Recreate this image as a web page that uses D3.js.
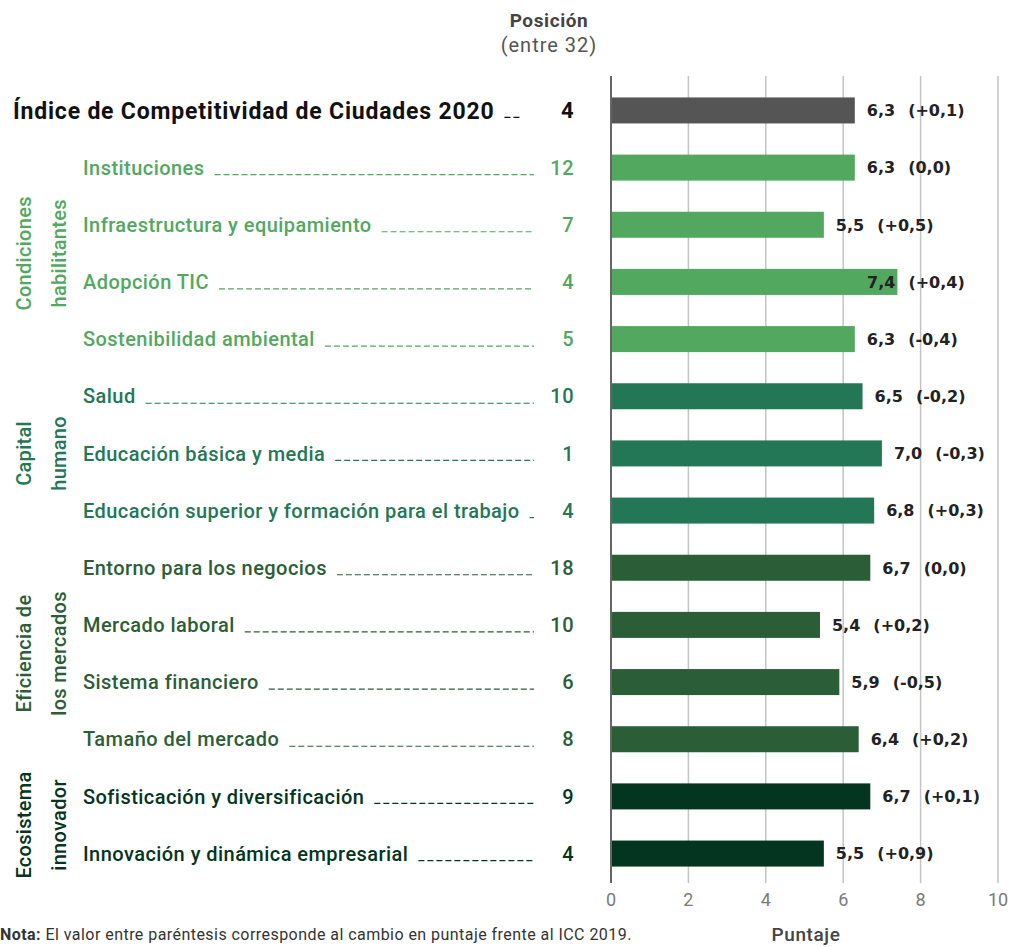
<!DOCTYPE html>
<html lang="es">
<head>
<meta charset="utf-8">
<title>Índice de Competitividad de Ciudades 2020</title>
<script src="https://d3js.org/d3.v7.min.js"></script>
<style>
  body { margin: 0; background: #fff; }
  text { font-family: Roboto, "Noto Sans", sans-serif; }
  .val { font-family: "DejaVu Sans", Verdana, sans-serif; }
</style>
</head>
<body>
<div id="chart"></div>
<script>

// data
var labels = [
  "Índice de Competitividad de Ciudades 2020",
  "Instituciones",
  "Infraestructura y equipamiento",
  "Adopción TIC",
  "Sostenibilidad ambiental",
  "Salud",
  "Educación básica y media",
  "Educación superior y formación para el trabajo",
  "Entorno para los negocios",
  "Mercado laboral",
  "Sistema financiero",
  "Tamaño del mercado",
  "Sofisticación y diversificación",
  "Innovación y dinámica empresarial"
];
var groupOf = [0, 1, 1, 1, 1, 2, 2, 2, 3, 3, 3, 3, 4, 4];
var positions = [4, 12, 7, 4, 5, 10, 1, 4, 18, 10, 6, 8, 9, 4];
var scores = [6.3, 6.3, 5.5, 7.4, 6.3, 6.5, 7.0, 6.8, 6.7, 5.4, 5.9, 6.4, 6.7, 5.5];
var changes = [0.1, 0.0, 0.5, 0.4, -0.4, -0.2, -0.3, 0.3, 0.0, 0.2, -0.5, 0.2, 0.1, 0.9];

var groupNames = [null,
  ["Condiciones", "habilitantes"],
  ["Capital", "humano"],
  ["Eficiencia de", "los mercados"],
  ["Ecosistema", "innovador"]
];
var groupColors = ["#555555", "#52a85f", "#237756", "#2b5e37", "#033520"];
var xTicks = [0, 2, 4, 6, 8, 10];

var w = 1010, h = 947;

var svg = d3.select("#chart").append("svg")
  .attr("width", w)
  .attr("height", h);

var xScale = d3.scaleLinear().domain([0, 10]).range([611, 998]);
var yScale = d3.scaleBand()
  .domain(d3.range(labels.length))
  .range([82, 882])
  .paddingInner(0.545)
  .paddingOuter(0.27);

var gridTop = 76, gridBottom = 883;

// grid lines
svg.append("g").selectAll("line")
  .data(xTicks.slice(1))
  .enter().append("line")
  .attr("x1", function(d){ return xScale(d); })
  .attr("x2", function(d){ return xScale(d); })
  .attr("y1", gridTop)
  .attr("y2", gridBottom)
  .attr("stroke", "#c4c4c4")
  .attr("stroke-width", 1.5);

// bars
svg.append("g").selectAll("rect")
  .data(scores)
  .enter().append("rect")
  .attr("x", xScale(0))
  .attr("y", function(d, i){ return yScale(i); })
  .attr("width", function(d){ return xScale(d) - xScale(0); })
  .attr("height", yScale.bandwidth())
  .attr("fill", function(d, i){ return groupColors[groupOf[i]]; });

// zero axis line
svg.append("line")
  .attr("x1", xScale(0)).attr("x2", xScale(0))
  .attr("y1", gridTop).attr("y2", gridBottom)
  .attr("stroke", "#666").attr("stroke-width", 2);

// x axis tick labels
svg.append("g").selectAll("text")
  .data(xTicks)
  .enter().append("text")
  .attr("x", function(d){ return xScale(d); })
  .attr("y", 906)
  .attr("text-anchor", "middle")
  .attr("font-size", 18)
  .attr("fill", "#7a7a7a")
  .text(function(d){ return d; });

svg.append("text")
  .attr("x", 806).attr("y", 941)
  .attr("text-anchor", "middle")
  .attr("font-size", 19)
  .attr("font-weight", 500)
  .attr("letter-spacing", 0.6)
  .attr("fill", "#444")
  .text("Puntaje");

// value labels: score and change
var fmt = function(v){ return v.toFixed(1).replace(".", ","); };
var fmtChange = function(v){
  if (v === 0) return "(0,0)";
  return "(" + (v > 0 ? "+" : "-") + fmt(Math.abs(v)) + ")";
};
var valG = svg.append("g");
scores.forEach(function(v, i){
  var cy = yScale(i) + yScale.bandwidth() / 2;
  var inside = v > 7.2;
  var t = valG.append("text").attr("class", "val")
    .attr("y", cy)
    .attr("dy", "0.36em")
    .attr("font-size", 16)
    .attr("font-weight", 700)
    .attr("fill", "#222")
    .text(fmt(v));
  var end;
  if (inside) {
    t.attr("x", xScale(v) - 2).attr("text-anchor", "end");
    end = xScale(v) - 2;
  } else {
    t.attr("x", xScale(v) + 12);
    end = xScale(v) + 12 + t.node().getComputedTextLength();
  }
  valG.append("text").attr("class", "val")
    .attr("x", end + 13)
    .attr("y", cy)
    .attr("dy", "0.36em")
    .attr("font-size", 16)
    .attr("font-weight", 700)
    .attr("fill", "#222")
    .text(fmtChange(changes[i]));
});

// category labels, leaders and positions
var labG = svg.append("g");
labels.forEach(function(l, i){
  var cy = yScale(i) + yScale.bandwidth() / 2;
  var col = i === 0 ? "#111" : groupColors[groupOf[i]];
  var x0 = i === 0 ? 13 : 83;
  var t = labG.append("text")
    .attr("x", x0)
    .attr("y", cy)
    .attr("dy", "0.36em")
    .attr("font-size", i === 0 ? 23 : 20)
    .attr("font-weight", i === 0 ? 700 : 500)
    .attr("letter-spacing", i === 0 ? 0.8 : 0.45)
    .attr("fill", col)
    .text(l);
  var end = x0 + t.node().getComputedTextLength();
  var leaderEnd = i === 0 ? 521 : 534;
  if (leaderEnd - end > 6) {
    labG.append("line")
      .attr("x1", end + 10).attr("x2", leaderEnd)
      .attr("y1", cy + 7).attr("y2", cy + 7)
      .attr("stroke", col)
      .attr("stroke-width", 1.2)
      .attr("stroke-dasharray", "6,3");
  }
  labG.append("text")
    .attr("x", 574)
    .attr("y", cy)
    .attr("dy", "0.36em")
    .attr("text-anchor", "end")
    .attr("font-size", i === 0 ? 22 : 20)
    .attr("font-weight", i === 0 ? 700 : 500)
    .attr("letter-spacing", 0.5)
    .attr("fill", col)
    .text(positions[i]);
});

// group labels (rotated)
for (var g = 1; g < groupNames.length; g++) {
  var rows = d3.range(labels.length).filter(function(i){ return groupOf[i] === g; });
  var cy = (yScale(rows[0]) + yScale(rows[rows.length - 1]) + yScale.bandwidth()) / 2;
  groupNames[g].forEach(function(line, k){
    svg.append("text")
      .attr("transform", "translate(" + (24 + k * 35) + "," + cy + ") rotate(-90)")
      .attr("text-anchor", "middle")
      .attr("dy", "0.35em")
      .attr("font-size", 20)
      .attr("font-weight", 500)
      .attr("letter-spacing", 0.3)
      .attr("fill", groupColors[g])
      .text(line);
  });
}

// header
svg.append("text")
  .attr("x", 549).attr("y", 27)
  .attr("text-anchor", "middle")
  .attr("font-size", 19)
  .attr("font-weight", 700)
  .attr("letter-spacing", 0.6)
  .attr("fill", "#444")
  .text("Posición");
svg.append("text")
  .attr("x", 549).attr("y", 52)
  .attr("text-anchor", "middle")
  .attr("font-size", 20)
  .attr("letter-spacing", 1)
  .attr("fill", "#555")
  .text("(entre 32)");

// note
var note = svg.append("text")
  .attr("x", 0).attr("y", 940)
  .attr("font-size", 16)
  .attr("letter-spacing", 0.45)
  .attr("fill", "#333");
note.append("tspan").attr("font-weight", 700).text("Nota:");
note.append("tspan").text(" El valor entre paréntesis corresponde al cambio en puntaje frente al ICC 2019.");

</script>
</body>
</html>
